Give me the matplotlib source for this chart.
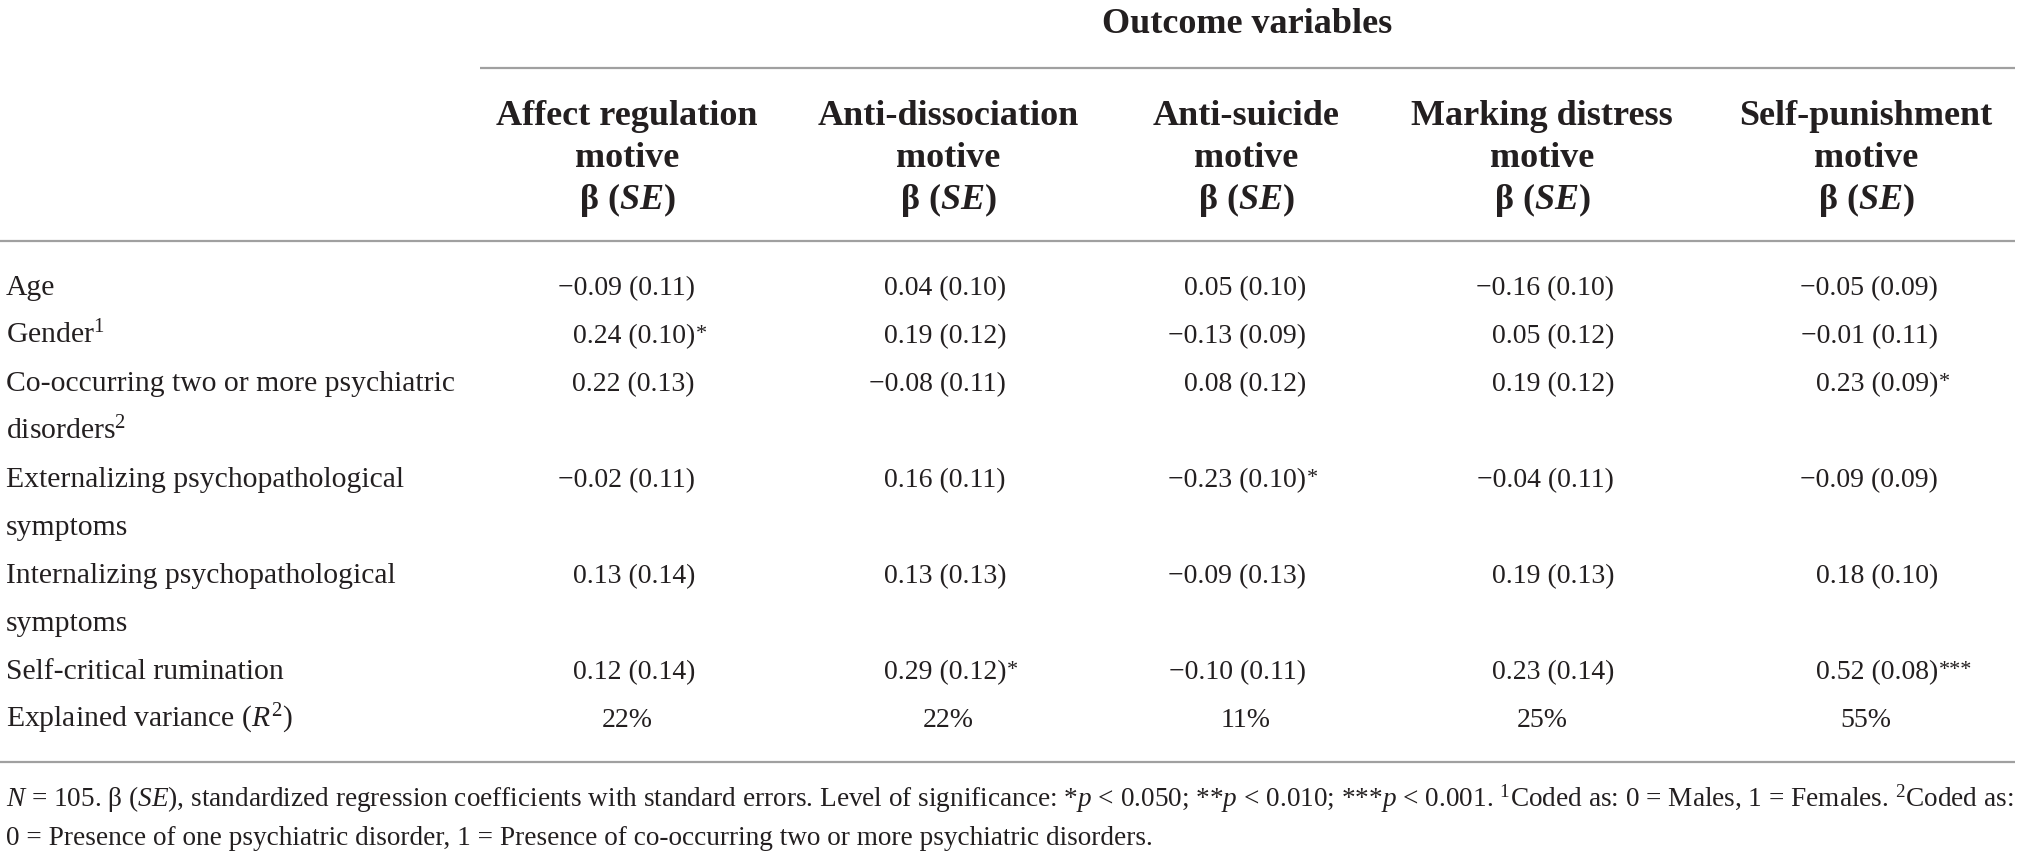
import matplotlib
matplotlib.use("Agg")
import matplotlib.pyplot as plt

plt.rcParams['font.family'] = ['Liberation Serif', 'DejaVu Serif']
plt.rcParams['mathtext.fontset'] = 'custom'
plt.rcParams['mathtext.rm'] = 'Liberation Serif'
plt.rcParams['mathtext.it'] = 'Liberation Serif:italic'
plt.rcParams['mathtext.bf'] = 'Liberation Serif:bold'
plt.rcParams['mathtext.bfit'] = 'Liberation Serif:bold:italic'

# table content
outcomes = ["Affect regulation", "Anti-dissociation", "Anti-suicide",
            "Marking distress", "Self-punishment"]
predictors = [["Age"],
              ["Gender$^1$"],
              ["Co-occurring two or more psychiatric", "disorders$^2$"],
              ["Externalizing psychopathological", "symptoms"],
              ["Internalizing psychopathological", "symptoms"],
              ["Self-critical rumination"]]
# one list per outcome column, rows follow predictors
beta = [[-0.09, 0.24, 0.22, -0.02, 0.13, 0.12],
        [0.04, 0.19, -0.08, 0.16, 0.13, 0.29],
        [0.05, -0.13, 0.08, -0.23, -0.09, -0.10],
        [-0.16, 0.05, 0.19, -0.04, 0.19, 0.23],
        [-0.05, -0.01, 0.23, -0.09, 0.18, 0.52]]
se = [[0.11, 0.10, 0.13, 0.11, 0.14, 0.14],
      [0.10, 0.12, 0.11, 0.11, 0.13, 0.12],
      [0.10, 0.09, 0.12, 0.10, 0.13, 0.11],
      [0.10, 0.12, 0.12, 0.11, 0.13, 0.14],
      [0.09, 0.11, 0.09, 0.09, 0.10, 0.08]]
stars = [["", "*", "", "", "", ""],
         ["", "", "", "", "", "*"],
         ["", "", "", "*", "", ""],
         ["", "", "", "", "", ""],
         ["", "", "*", "", "", "***"]]
r2 = [22, 22, 11, 25, 55]

footnote = ["$\\mathit{N}$ = 105. β ($\\mathit{SE}$), standardized regression coefficients with standard errors. "
            "Level of significance: *$\\mathit{p}$ < 0.050; **$\\mathit{p}$ < 0.010; ***$\\mathit{p}$ < 0.001. "
            "$^1$Coded as: 0 = Males, 1 = Females. $^2$Coded as:",
            "0 = Presence of one psychiatric disorder, 1 = Presence of co-occurring two or more psychiatric disorders."]

ink = '#231f20'
rule = '#a0a0a0'
label_fs = 21.3
num_fs = 20
head_fs = 26
note_fs = 19.6

fig = plt.figure(figsize=(20.19, 8.55), dpi=100)
ax = fig.add_axes([0, 0, 1, 1])
ax.set_xlim(0, 2019)
ax.set_ylim(855, 0)
ax.axis('off')

col_mid = [627, 948, 1246, 1542, 1866]
col_right = [695, 1006, 1306, 1614, 1938]

# header
ax.text(1247, 33, "Outcome variables", ha='center', va='baseline',
        fontsize=head_fs, fontweight='bold', color=ink)
ax.hlines(68, 480, 2015, color=rule, lw=1.6)
for i, name in enumerate(outcomes):
    ax.text(col_mid[i], 125, name, ha='center', va='baseline', fontsize=head_fs, fontweight='bold', color=ink)
    ax.text(col_mid[i], 167, "motive", ha='center', va='baseline', fontsize=head_fs, fontweight='bold', color=ink)
    ax.text(col_mid[i], 209, "β ($\\mathbfit{SE}$)", ha='center', va='baseline',
            fontsize=head_fs, fontweight='bold', color=ink)
ax.hlines(241, 0, 2015, color=rule, lw=1.6)

# body rows
y0 = 295
pitch = 48
line = 0
for r, lab in enumerate(predictors):
    y = y0 + line * pitch
    for k, part in enumerate(lab):
        ax.text(6, y + k * pitch, part, ha='left', va='baseline', fontsize=label_fs, color=ink)
    for c in range(len(outcomes)):
        s = f"{beta[c][r]:.2f} ({se[c][r]:.2f})".replace("-", "\u2212")
        t = ax.text(col_right[c], y, s, ha='right', va='baseline', fontsize=num_fs, color=ink)
        if stars[c][r]:
            ax.annotate(stars[c][r], xy=(1, 1), xycoords=t, xytext=(0.5, -1),
                        textcoords='offset points', ha='left', va='top',
                        fontsize=num_fs * 0.8, color=ink)
    line += len(lab)

y = y0 + line * pitch
ax.text(6, y, "Explained variance ($\\mathit{R}^2$)", ha='left', va='baseline', fontsize=label_fs, color=ink)
for c in range(len(outcomes)):
    ax.text(col_mid[c], y, f"{r2[c]}%", ha='center', va='baseline', fontsize=num_fs, color=ink)

ax.hlines(762, 0, 2015, color=rule, lw=1.6)

# footnote
ax.text(6, 807, footnote[0], ha='left', va='baseline', fontsize=note_fs, color=ink)
ax.text(6, 845, footnote[1], ha='left', va='baseline', fontsize=note_fs, color=ink)

fig.savefig("out.png", dpi=100, facecolor='white')
